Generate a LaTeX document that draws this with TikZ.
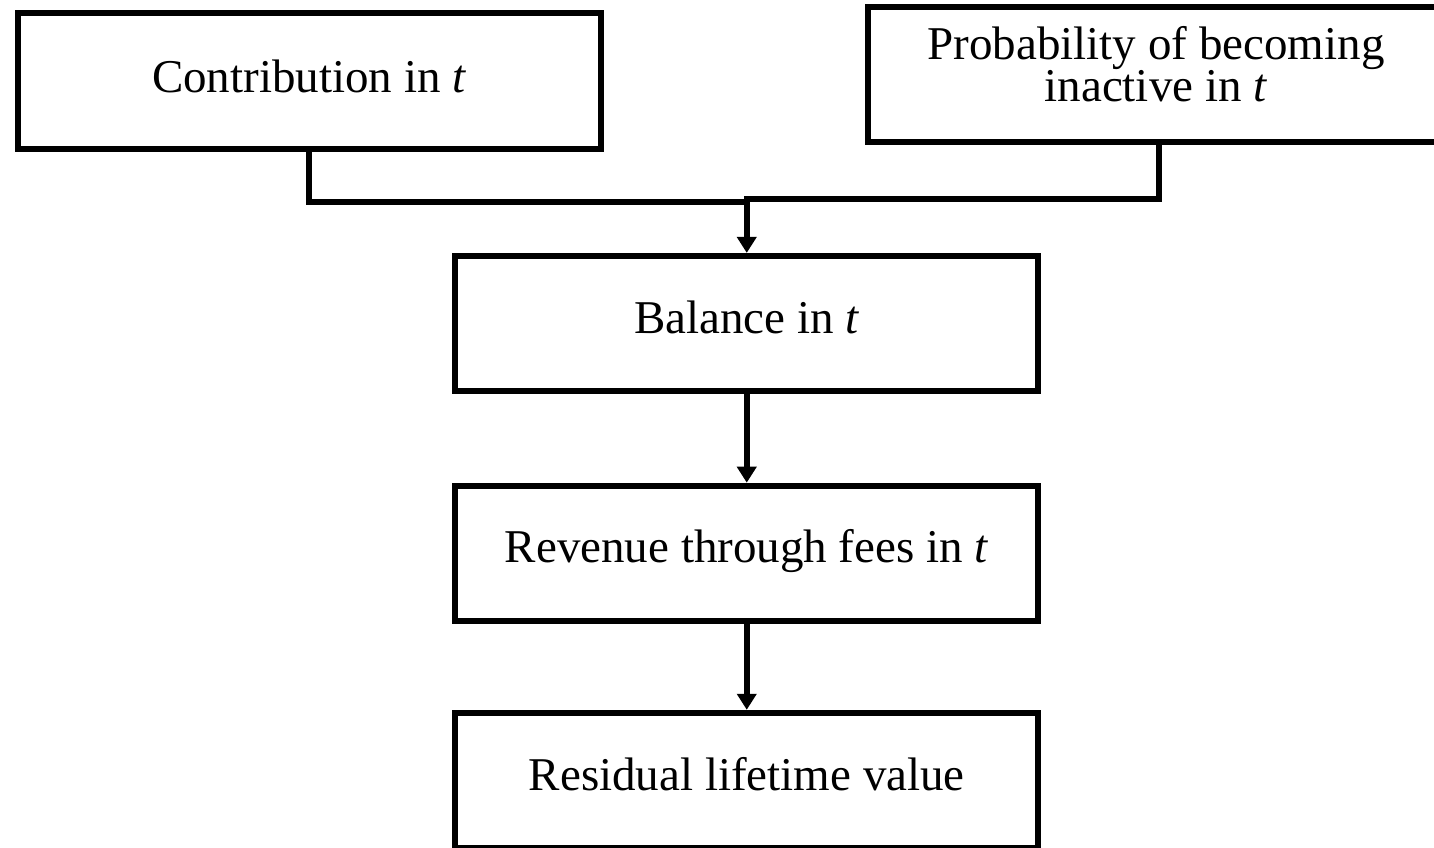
\documentclass[tikz,border=0pt]{standalone}
\usepackage{fontspec}
\setmainfont{Liberation Serif}
\usetikzlibrary{arrows.meta}
\begin{document}
\begin{tikzpicture}[x=1pt,y=-1pt,
  box/.style={draw=black,line width=6pt,minimum width=582.6pt,minimum height=135.2pt,inner sep=0pt},
  lbl/.style={anchor=base,inner sep=0pt,align=center,font=\fontsize{47}{38.7}\selectfont},
  conn/.style={draw=black,line width=5.8pt},
  arr/.style={conn,-{Triangle[length=16pt,width=19pt]}}]
\clip (0,0) rectangle (1434,848);
\fill[white] (0,0) rectangle (1434,848);
% boxes
\node[box] (contrib) at (309.2,81.1) {};
\node[box] (prob) at (1159.3,74.4) {};
\node[box] (bal) at (746.75,323.5) {};
\node[box] (rev) at (746.75,553.3) {};
\node[box] (res) at (746.75,780.4) {};
% labels
\node[lbl] (contribT) at (309.2,93) {Contribution in \textit{t}};
\node[lbl] (probT) at (1156,101.7) {Probability of becoming\\inactive in \textit{t}};
\node[lbl] (balT) at (746.75,333) {Balance in \textit{t}};
\node[lbl] (revT) at (746.75,562.5) {Revenue through fees in \textit{t}};
\node[lbl] (resT) at (746.75,790.7) {Residual lifetime value};
% junctions
\coordinate (jl) at (749.5,202);
\coordinate (jr) at (746.75,198.7);
% connectors
\draw[conn] (contrib.south) |- (jl);
\draw[arr] (prob.south) |- (jr) -- (bal.north);
\draw[arr] (bal.south) -- (rev.north);
\draw[arr] (rev.south) -- (res.north);
\end{tikzpicture}
\end{document}
